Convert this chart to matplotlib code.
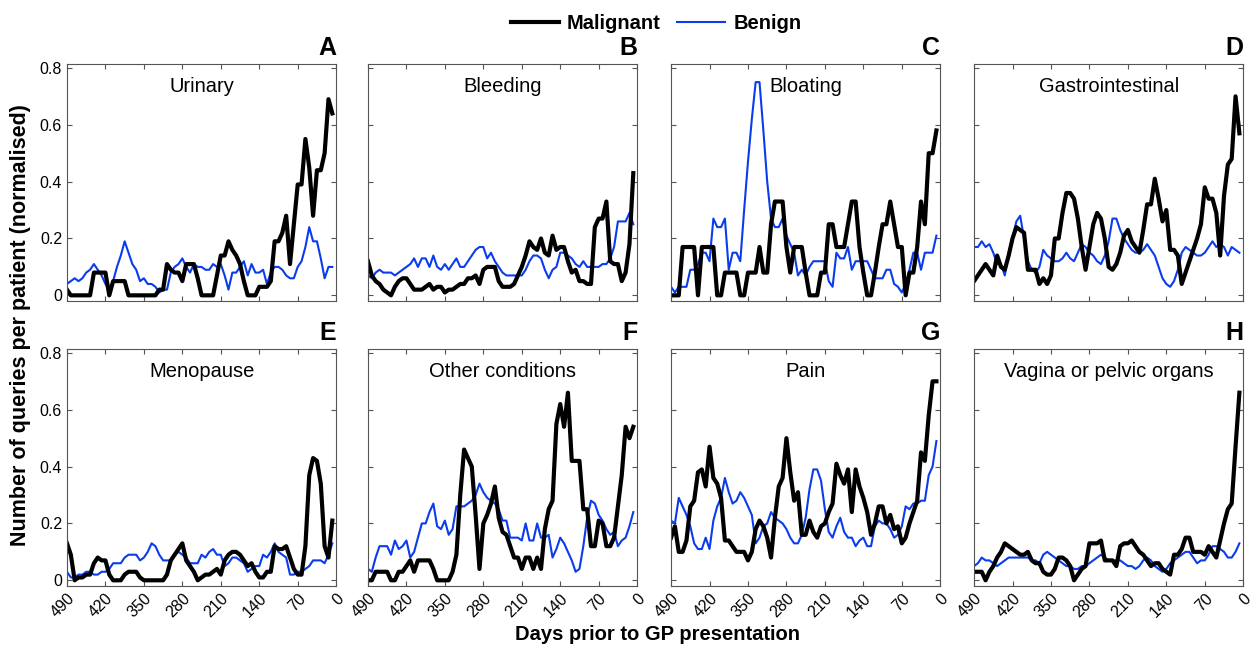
import numpy as np
import matplotlib
matplotlib.use("Agg")
import matplotlib.pyplot as plt

plt.rcParams['font.family'] = ['Liberation Sans', 'DejaVu Sans']

days = np.arange(490, 0, -7)  # weekly bins, 490 ... 7 days before presentation

titles = ["Urinary", "Bleeding", "Bloating", "Gastrointestinal",
          "Menopause", "Other conditions", "Pain", "Vagina or pelvic organs"]
letters = ["A", "B", "C", "D", "E", "F", "G", "H"]
xticks = [490, 420, 350, 280, 210, 140, 70, 0]
yticks = [0, 0.2, 0.4, 0.6, 0.8]

urinary_mal = [0.02, 0, 0, 0, 0, 0, 0, 0.08, 0.08, 0.08,
               0.08, 0, 0.05, 0.05, 0.05, 0.05, 0, 0, 0, 0,
               0, 0, 0, 0, 0.02, 0.02, 0.11, 0.09, 0.08, 0.08,
               0.05, 0.11, 0.11, 0.11, 0.06, 0, 0, 0, 0, 0.07,
               0.14, 0.14, 0.19, 0.16, 0.14, 0.11, 0.05, 0, 0, 0,
               0.03, 0.03, 0.03, 0.05, 0.19, 0.19, 0.22, 0.28, 0.11, 0.25,
               0.39, 0.39, 0.55, 0.45, 0.28, 0.44, 0.44, 0.5, 0.69, 0.64]
urinary_ben = [0.04, 0.05, 0.06, 0.05, 0.06, 0.08, 0.09, 0.11, 0.09, 0.07,
               0.04, 0.02, 0.05, 0.1, 0.14, 0.19, 0.15, 0.11, 0.09, 0.05,
               0.06, 0.04, 0.04, 0.03, 0.01, 0.02, 0.02, 0.08, 0.1, 0.11,
               0.13, 0.1, 0.08, 0.11, 0.1, 0.1, 0.09, 0.09, 0.11, 0.1,
               0.11, 0.07, 0.02, 0.08, 0.08, 0.1, 0.12, 0.07, 0.11, 0.08,
               0.08, 0.09, 0.04, 0.08, 0.1, 0.1, 0.09, 0.07, 0.06, 0.06,
               0.1, 0.12, 0.17, 0.24, 0.19, 0.19, 0.13, 0.06, 0.1, 0.1]

bleeding_mal = [0.12, 0.07, 0.05, 0.04, 0.02, 0.01, 0.0, 0.03, 0.05, 0.06,
                0.06, 0.04, 0.02, 0.02, 0.02, 0.03, 0.04, 0.02, 0.03, 0.03,
                0.01, 0.02, 0.02, 0.03, 0.04, 0.04, 0.06, 0.06, 0.07, 0.04,
                0.09, 0.1, 0.1, 0.1, 0.05, 0.03, 0.03, 0.03, 0.04, 0.07,
                0.1, 0.14, 0.19, 0.17, 0.16, 0.2, 0.15, 0.14, 0.21, 0.16,
                0.17, 0.17, 0.12, 0.08, 0.09, 0.05, 0.05, 0.04, 0.04, 0.24,
                0.27, 0.27, 0.33, 0.12, 0.11, 0.11, 0.05, 0.08, 0.18, 0.43]
bleeding_ben = [0.07, 0.06, 0.08, 0.09, 0.08, 0.08, 0.08, 0.07, 0.08, 0.09,
                0.1, 0.11, 0.13, 0.1, 0.13, 0.13, 0.1, 0.14, 0.1, 0.09,
                0.11, 0.09, 0.11, 0.13, 0.1, 0.1, 0.12, 0.14, 0.16, 0.17,
                0.17, 0.13, 0.15, 0.12, 0.1, 0.08, 0.07, 0.07, 0.07, 0.07,
                0.07, 0.09, 0.12, 0.14, 0.14, 0.13, 0.09, 0.06, 0.09, 0.1,
                0.15, 0.15, 0.14, 0.13, 0.11, 0.1, 0.12, 0.1, 0.1, 0.1,
                0.1, 0.11, 0.11, 0.13, 0.17, 0.26, 0.26, 0.26, 0.29, 0.25]

bloating_mal = [0, 0, 0, 0.17, 0.17, 0.17, 0.17, 0, 0.17, 0.17,
                0.17, 0.17, 0, 0, 0.08, 0.08, 0.08, 0.08, 0, 0,
                0.08, 0.08, 0.08, 0.17, 0.08, 0.08, 0.25, 0.33, 0.33, 0.33,
                0.17, 0.08, 0.17, 0.17, 0.17, 0.08, 0, 0, 0, 0.08,
                0.08, 0.25, 0.25, 0.17, 0.17, 0.17, 0.25, 0.33, 0.33, 0.17,
                0.08, 0, 0, 0.08, 0.17, 0.25, 0.25, 0.33, 0.25, 0.17,
                0.17, 0, 0.08, 0.08, 0.17, 0.33, 0.25, 0.5, 0.5, 0.58]
bloating_ben = [0.03, 0.01, 0.03, 0.03, 0.03, 0.09, 0.09, 0.11, 0.15, 0.15,
                0.12, 0.27, 0.24, 0.24, 0.27, 0.09, 0.15, 0.15, 0.12, 0.3,
                0.47, 0.62, 0.75, 0.75, 0.58, 0.4, 0.27, 0.24, 0.24, 0.27,
                0.21, 0.18, 0.15, 0.07, 0.09, 0.07, 0.1, 0.12, 0.12, 0.12,
                0.12, 0.05, 0.03, 0.15, 0.13, 0.13, 0.17, 0.09, 0.12, 0.12,
                0.12, 0.12, 0.09, 0.06, 0.06, 0.06, 0.09, 0.09, 0.04, 0.03,
                0.01, 0.04, 0.09, 0.15, 0.15, 0.09, 0.15, 0.15, 0.15, 0.21]

gastro_mal = [0.05, 0.07, 0.09, 0.11, 0.09, 0.07, 0.14, 0.1, 0.09, 0.14,
              0.2, 0.24, 0.23, 0.22, 0.09, 0.09, 0.09, 0.04, 0.06, 0.04,
              0.07, 0.2, 0.2, 0.29, 0.36, 0.36, 0.34, 0.27, 0.17, 0.09,
              0.17, 0.25, 0.29, 0.27, 0.2, 0.1, 0.09, 0.11, 0.15, 0.21,
              0.23, 0.19, 0.17, 0.15, 0.23, 0.32, 0.32, 0.41, 0.34, 0.26,
              0.3, 0.16, 0.16, 0.14, 0.04, 0.08, 0.12, 0.16, 0.2, 0.25,
              0.38, 0.34, 0.34, 0.29, 0.14, 0.35, 0.46, 0.48, 0.7, 0.57]
gastro_ben = [0.17, 0.17, 0.19, 0.17, 0.18, 0.15, 0.11, 0.11, 0.07, 0.15,
              0.2, 0.26, 0.28, 0.2, 0.12, 0.09, 0.08, 0.1, 0.16, 0.14,
              0.13, 0.12, 0.12, 0.13, 0.15, 0.13, 0.12, 0.15, 0.18, 0.17,
              0.15, 0.14, 0.12, 0.11, 0.14, 0.19, 0.27, 0.27, 0.23, 0.2,
              0.18, 0.16, 0.15, 0.15, 0.16, 0.18, 0.16, 0.14, 0.1, 0.06,
              0.04, 0.03, 0.05, 0.09, 0.15, 0.17, 0.16, 0.15, 0.14, 0.14,
              0.15, 0.17, 0.19, 0.17, 0.18, 0.17, 0.14, 0.17, 0.16, 0.15]

menopause_mal = [0.13, 0.09, 0.0, 0.01, 0.01, 0.02, 0.02, 0.06, 0.08, 0.07,
                 0.07, 0.02, 0.0, 0.0, 0.0, 0.02, 0.03, 0.03, 0.03, 0.01,
                 0.0, 0.0, 0.0, 0.0, 0.0, 0.0, 0.02, 0.07, 0.09, 0.11,
                 0.13, 0.07, 0.05, 0.03, 0.0, 0.01, 0.02, 0.02, 0.03, 0.04,
                 0.02, 0.07, 0.09, 0.1, 0.1, 0.09, 0.07, 0.05, 0.06, 0.03,
                 0.01, 0.01, 0.03, 0.03, 0.12, 0.11, 0.11, 0.12, 0.08, 0.04,
                 0.02, 0.02, 0.12, 0.37, 0.43, 0.42, 0.34, 0.12, 0.08, 0.21]
menopause_ben = [0.03, 0.01, 0.01, 0.02, 0.02, 0.03, 0.03, 0.02, 0.02, 0.03,
                 0.03, 0.04, 0.06, 0.06, 0.06, 0.08, 0.09, 0.09, 0.09, 0.07,
                 0.08, 0.1, 0.13, 0.12, 0.09, 0.07, 0.07, 0.07, 0.09, 0.1,
                 0.09, 0.08, 0.06, 0.06, 0.06, 0.09, 0.08, 0.1, 0.11, 0.09,
                 0.09, 0.05, 0.06, 0.08, 0.08, 0.07, 0.06, 0.03, 0.04, 0.05,
                 0.05, 0.09, 0.08, 0.1, 0.13, 0.1, 0.09, 0.08, 0.02, 0.02,
                 0.03, 0.03, 0.04, 0.05, 0.07, 0.07, 0.07, 0.06, 0.09, 0.13]

other_mal = [0, 0, 0.03, 0.03, 0.03, 0.03, 0, 0, 0.03, 0.03,
             0.05, 0.07, 0.03, 0.07, 0.07, 0.07, 0.07, 0.04, 0, 0,
             0, 0, 0.03, 0.09, 0.3, 0.46, 0.43, 0.4, 0.23, 0.04,
             0.2, 0.23, 0.27, 0.33, 0.22, 0.17, 0.16, 0.12, 0.08, 0.08,
             0.04, 0.08, 0.08, 0.04, 0.08, 0.04, 0.18, 0.25, 0.28, 0.55,
             0.62, 0.54, 0.66, 0.42, 0.42, 0.42, 0.25, 0.25, 0.12, 0.12,
             0.21, 0.2, 0.12, 0.12, 0.15, 0.26, 0.37, 0.54, 0.5, 0.54]
other_ben = [0.04, 0.03, 0.08, 0.12, 0.12, 0.12, 0.09, 0.14, 0.11, 0.12,
             0.14, 0.08, 0.1, 0.15, 0.2, 0.2, 0.24, 0.27, 0.19, 0.18,
             0.21, 0.16, 0.18, 0.26, 0.26, 0.26, 0.27, 0.28, 0.3, 0.34,
             0.31, 0.29, 0.28, 0.27, 0.25, 0.21, 0.21, 0.15, 0.15, 0.15,
             0.14, 0.2, 0.14, 0.14, 0.2, 0.15, 0.15, 0.16, 0.08, 0.11,
             0.15, 0.13, 0.1, 0.07, 0.03, 0.04, 0.12, 0.22, 0.28, 0.27,
             0.23, 0.21, 0.18, 0.16, 0.17, 0.12, 0.14, 0.15, 0.19, 0.24]

pain_mal = [0.15, 0.19, 0.1, 0.1, 0.14, 0.26, 0.28, 0.38, 0.39, 0.33,
            0.47, 0.36, 0.34, 0.29, 0.14, 0.14, 0.12, 0.1, 0.1, 0.1,
            0.07, 0.1, 0.18, 0.21, 0.19, 0.15, 0.08, 0.22, 0.33, 0.36,
            0.5, 0.38, 0.28, 0.31, 0.16, 0.16, 0.21, 0.17, 0.15, 0.19,
            0.2, 0.24, 0.27, 0.41, 0.37, 0.34, 0.39, 0.24, 0.39, 0.33,
            0.29, 0.24, 0.16, 0.2, 0.26, 0.26, 0.2, 0.23, 0.18, 0.19,
            0.13, 0.15, 0.2, 0.24, 0.28, 0.45, 0.42, 0.58, 0.7, 0.7]
pain_ben = [0.21, 0.2, 0.29, 0.26, 0.23, 0.19, 0.13, 0.11, 0.11, 0.15,
            0.11, 0.21, 0.26, 0.29, 0.36, 0.31, 0.27, 0.28, 0.31, 0.29,
            0.26, 0.23, 0.13, 0.15, 0.19, 0.2, 0.24, 0.22, 0.21, 0.2,
            0.18, 0.15, 0.13, 0.13, 0.16, 0.22, 0.32, 0.39, 0.39, 0.35,
            0.25, 0.17, 0.15, 0.19, 0.22, 0.17, 0.15, 0.15, 0.12, 0.14,
            0.15, 0.12, 0.12, 0.19, 0.21, 0.2, 0.2, 0.18, 0.15, 0.16,
            0.19, 0.26, 0.25, 0.27, 0.27, 0.28, 0.28, 0.37, 0.4, 0.49]

pelvic_mal = [0.03, 0.03, 0.03, 0.0, 0.03, 0.05, 0.08, 0.1, 0.13, 0.12,
              0.11, 0.1, 0.09, 0.09, 0.1, 0.07, 0.06, 0.06, 0.03, 0.02,
              0.02, 0.04, 0.08, 0.08, 0.07, 0.05, 0.0, 0.02, 0.04, 0.05,
              0.13, 0.13, 0.13, 0.14, 0.07, 0.07, 0.07, 0.05, 0.12, 0.13,
              0.13, 0.14, 0.12, 0.1, 0.09, 0.07, 0.05, 0.06, 0.06, 0.04,
              0.03, 0.02, 0.09, 0.09, 0.11, 0.15, 0.15, 0.1, 0.1, 0.1,
              0.09, 0.12, 0.1, 0.08, 0.14, 0.2, 0.25, 0.27, 0.47, 0.66]
pelvic_ben = [0.05, 0.06, 0.08, 0.07, 0.07, 0.06, 0.05, 0.06, 0.07, 0.08,
              0.08, 0.08, 0.08, 0.08, 0.08, 0.07, 0.07, 0.06, 0.09, 0.1,
              0.09, 0.08, 0.07, 0.06, 0.05, 0.05, 0.04, 0.04, 0.05, 0.05,
              0.06, 0.07, 0.08, 0.09, 0.08, 0.07, 0.07, 0.07, 0.07, 0.06,
              0.05, 0.05, 0.04, 0.05, 0.07, 0.08, 0.07, 0.05, 0.04, 0.03,
              0.04, 0.06, 0.07, 0.08, 0.09, 0.1, 0.1, 0.08, 0.06, 0.07,
              0.07, 0.09, 0.12, 0.12, 0.11, 0.1, 0.08, 0.08, 0.1, 0.13]

malignant = [urinary_mal, bleeding_mal, bloating_mal, gastro_mal,
             menopause_mal, other_mal, pain_mal, pelvic_mal]
benign = [urinary_ben, bleeding_ben, bloating_ben, gastro_ben,
          menopause_ben, other_ben, pain_ben, pelvic_ben]

blue = '#0a3ced'

fig = plt.figure(figsize=(12.52, 6.45), dpi=100)
lefts = [0.0535, 0.2939, 0.536, 0.778]
bottoms = [0.5333, 0.0915]
w, h = 0.2150, 0.368

for k in range(8):
    r, c = k // 4, k % 4
    ax = fig.add_axes([lefts[c], bottoms[r], w, h])
    ax.plot(days, benign[k], color=blue, lw=1.5, label='Benign')
    ax.plot(days, malignant[k], color='black', lw=3.0, label='Malignant')
    ax.set_xlim(490, 0)
    ax.set_ylim(-0.02, 0.815)
    ax.set_xticks(xticks)
    ax.set_yticks(yticks)
    ax.tick_params(direction='in', top=True, right=True, length=3.5,
                   color='#555555', labelsize=11.5)
    for s in ax.spines.values():
        s.set_color('#555555')
        s.set_linewidth(0.8)
    if c == 0:
        ax.set_yticklabels(['0', '0.2', '0.4', '0.6', '0.8'])
    else:
        ax.set_yticklabels([])
    if r == 1:
        ax.set_xticklabels([str(t) for t in xticks], rotation=45,
                           ha='right', va='top', rotation_mode='anchor')
    else:
        ax.set_xticklabels([])
    ax.text(0.5, 0.905, titles[k], transform=ax.transAxes, ha='center',
            va='center', fontsize=14.5)
    ax.text(1.0, 1.015, letters[k], transform=ax.transAxes, ha='right',
            va='bottom', fontsize=18, fontweight='bold')

handles = [plt.Line2D([], [], color='black', lw=3.0),
           plt.Line2D([], [], color=blue, lw=1.5)]
fig.legend(handles, ['Malignant', 'Benign'], loc='center',
           bbox_to_anchor=(0.524, 0.964), ncol=2, frameon=False,
           prop={'weight': 'bold', 'size': 14.5}, handlelength=2.4,
           columnspacing=0.8, handletextpad=0.4)

fig.text(0.525, 0.016, 'Days prior to GP presentation', ha='center',
         va='center', fontsize=14.5, fontweight='bold')
fig.text(0.016, 0.496, 'Number of queries per patient (normalised)',
         rotation=90, ha='center', va='center', fontsize=15.5, fontweight='bold')

fig.savefig('out.png', dpi=100)
